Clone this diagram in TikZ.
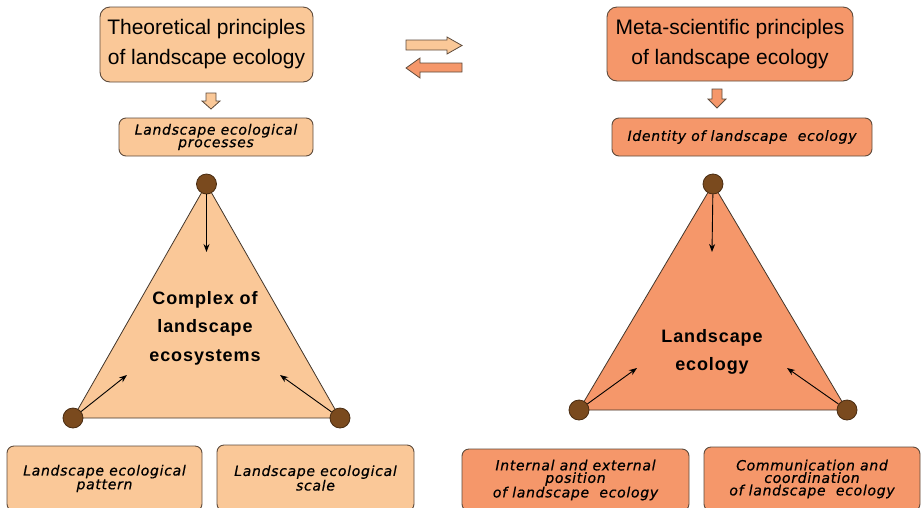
\documentclass[tikz,border=0pt]{standalone}
\usepackage{fontspec}
\setmainfont{Liberation Sans}
\newfontfamily\boxfont[LetterSpace=5, ItalicFeatures={FakeBold=0.6}]{DejaVu Sans}
\newfontfamily\heavyfont[LetterSpace=5]{Liberation Sans}
\usetikzlibrary{arrows.meta, positioning}
\definecolor{peach}{HTML}{FAC898}
\definecolor{coral}{HTML}{F5976A}
\definecolor{rim}{HTML}{5E4B3C}
\definecolor{knobbrown}{HTML}{7A4A1E}

\begin{document}
\begin{tikzpicture}[x=1pt, y=-1pt,
    head/.style={rectangle, rounded corners=10pt, draw=rim, line width=0.9pt, align=center, font=\fontsize{21}{30}\selectfont},
    box/.style={rectangle, rounded corners=7pt, draw=rim, line width=0.9pt, align=center, inner sep=0pt, font=\boxfont\itshape\fontsize{14}{12.5}\selectfont},
    knob/.style={circle, fill=knobbrown, draw=knobbrown!60!black, line width=0.8pt, minimum size=20pt, inner sep=0pt},
    tri/.style={draw=rim!70!black, line width=0.8pt},
    blockarrow/.style={draw=rim, line width=0.8pt},
    title/.style={align=center, font=\heavyfont\bfseries\fontsize{18}{28.5}\selectfont},
    >={Stealth[length=8pt, width=6pt]}
    ]
    \useasboundingbox (0,0) rectangle (922,507);
    \clip (0,0) rectangle (922,507);

    \node[head, fill=peach, minimum width=213pt, minimum height=75pt] (theory) at (206.5,44.5) {Theoretical principles\\of landscape ecology};
    \node[head, fill=coral, minimum width=246pt, minimum height=74pt] (meta) at (730,44) {Meta-scientific principles\\of landscape ecology};

    \filldraw[blockarrow, fill=peach] (406,40) -- (447,40) -- (447,37) -- (462,45.5) -- (447,54) -- (447,50) -- (406,50) -- cycle;
    \filldraw[blockarrow, fill=coral] (462,63) -- (420,63) -- (420,58) -- (406,68) -- (420,78) -- (420,72) -- (462,72) -- cycle;

    \filldraw[blockarrow, fill=peach] (206,93) -- (216,93) -- (216,101) -- (220,101) -- (211,109) -- (202,101) -- (206,101) -- cycle;
    \filldraw[blockarrow, fill=coral] (712,89) -- (722,89) -- (722,99) -- (726,99) -- (717,108) -- (708,99) -- (712,99) -- cycle;

    \node[box, fill=peach, minimum width=194pt, minimum height=38pt] (process) at (216,137) {Landscape ecological\\processes};
    \node[box, fill=coral, minimum width=260pt, minimum height=38pt] (identity) at (742,137) {Identity of landscape\ \ ecology};

    \coordinate (la) at (206.5,184);
    \coordinate (lb) at (73,418);
    \coordinate (lc) at (340,418);
    \coordinate (ra) at (713,184);
    \coordinate (rb) at (579,410);
    \coordinate (rc) at (847,410);

    \filldraw[tri, fill=peach] (la) -- (lb) -- (lc) -- cycle;
    \filldraw[tri, fill=coral] (ra) -- (rb) -- (rc) -- cycle;

    \node[title] (complex) at (205,328) {Complex of\\landscape\\ecosystems};
    \node[title] (ecology) at (712,352) {Landscape\\ecology};

    \node[knob] (lka) at (la) {};
    \node[knob] (lkb) at (lb) {};
    \node[knob] (lkc) at (lc) {};
    \node[knob] (rka) at (ra) {};
    \node[knob] (rkb) at (rb) {};
    \node[knob] (rkc) at (rc) {};

    \coordinate (lina) at (206.5,252);
    \coordinate (linb) at (127,375);
    \coordinate (linc) at (280,375);
    \coordinate (rina) at (712,252);
    \coordinate (rinb) at (637,368);
    \coordinate (rinc) at (787,368);

    \draw[->, line width=0.9pt] (lka) -- (lina);
    \draw[->, line width=0.9pt] (lkb) -- (linb);
    \draw[->, line width=0.9pt] (lkc) -- (linc);
    \draw[->, line width=0.9pt] (rka) -- (rina);
    \draw[->, line width=0.9pt] (rkb) -- (rinb);
    \draw[->, line width=0.9pt] (rkc) -- (rinc);

    \node[box, fill=peach, minimum width=195pt, minimum height=65pt] (pattern) at (104.5,478.5) {Landscape ecological\\pattern};
    \node[box, fill=peach, minimum width=197pt, minimum height=66pt] (scale) at (315.5,478) {Landscape ecological\\scale};
    \node[box, fill=coral, minimum width=227pt, minimum height=62pt] (position) at (575.5,480) {Internal and external\\position\\of landscape\ \ ecology};
    \node[box, fill=coral, minimum width=216pt, minimum height=64pt] (communication) at (812,479) {Communication and\\coordination\\of landscape\ \ ecology};
\end{tikzpicture}
\end{document}
